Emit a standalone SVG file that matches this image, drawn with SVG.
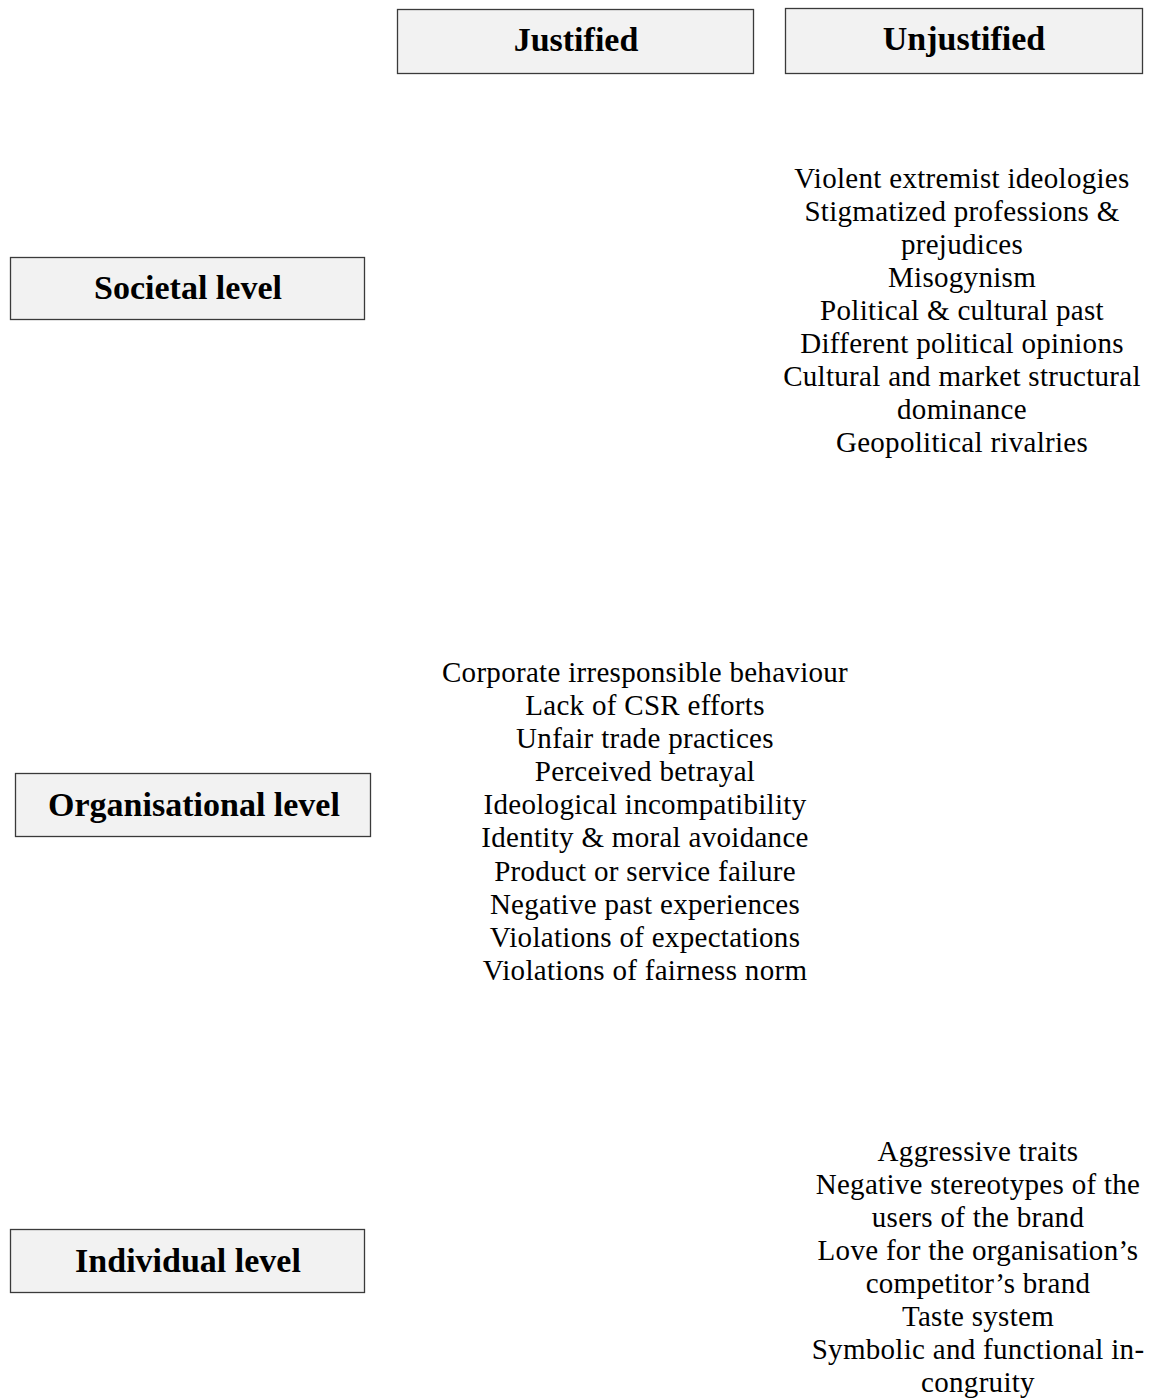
<svg xmlns="http://www.w3.org/2000/svg" width="1153" height="1400" viewBox="0 0 1153 1400">
<style>
.box{fill:#f2f2f2;stroke:#3a3a3a;stroke-width:1.3}
.h{font-family:"Liberation Serif","Times New Roman",serif;font-weight:bold;font-size:34px;fill:#000;text-anchor:middle}
.t{font-family:"Liberation Serif","Times New Roman",serif;font-size:29px;letter-spacing:0.3px;fill:#000;text-anchor:middle}
</style>
<rect width="1153" height="1400" fill="#fff"/>
<g id="justified">
<rect class="box" x="397.5" y="9.5" width="356" height="64"/>
<text class="h" x="576" y="51">Justified</text>
</g>
<g id="unjustified">
<rect class="box" x="785.5" y="8.5" width="357" height="65"/>
<text class="h" x="964" y="50">Unjustified</text>
</g>
<g id="societal">
<rect class="box" x="10.5" y="257.5" width="354" height="62"/>
<text class="h" x="188" y="299">Societal level</text>
</g>
<g id="organisational">
<rect class="box" x="15.5" y="773.5" width="355" height="63"/>
<text class="h" x="194" y="816">Organisational level</text>
</g>
<g id="individual">
<rect class="box" x="10.5" y="1229.5" width="354" height="63"/>
<text class="h" x="188" y="1272">Individual level</text>
</g>
<g id="societal-unjustified">
<text class="t" x="962" y="188">Violent extremist ideologies</text>
<text class="t" x="962" y="221">Stigmatized professions &amp;</text>
<text class="t" x="962" y="254">prejudices</text>
<text class="t" x="962" y="287">Misogynism</text>
<text class="t" x="962" y="320">Political &amp; cultural past</text>
<text class="t" x="962" y="353">Different political opinions</text>
<text class="t" x="962" y="386">Cultural and market structural</text>
<text class="t" x="962" y="419">dominance</text>
<text class="t" x="962" y="452">Geopolitical rivalries</text>
</g>
<g id="organisational-justified">
<text class="t" x="645" y="682">Corporate irresponsible behaviour</text>
<text class="t" x="645" y="715">Lack of CSR efforts</text>
<text class="t" x="645" y="748">Unfair trade practices</text>
<text class="t" x="645" y="781">Perceived betrayal</text>
<text class="t" x="645" y="814">Ideological incompatibility</text>
<text class="t" x="645" y="847">Identity &amp; moral avoidance</text>
<text class="t" x="645" y="881">Product or service failure</text>
<text class="t" x="645" y="914">Negative past experiences</text>
<text class="t" x="645" y="947">Violations of expectations</text>
<text class="t" x="645" y="980">Violations of fairness norm</text>
</g>
<g id="individual-unjustified">
<text class="t" x="978" y="1161">Aggressive traits</text>
<text class="t" x="978" y="1194">Negative stereotypes of the</text>
<text class="t" x="978" y="1227">users of the brand</text>
<text class="t" x="978" y="1260">Love for the organisation’s</text>
<text class="t" x="978" y="1293">competitor’s brand</text>
<text class="t" x="978" y="1326">Taste system</text>
<text class="t" x="978" y="1359">Symbolic and functional in-</text>
<text class="t" x="978" y="1392">congruity</text>
</g>
</svg>
